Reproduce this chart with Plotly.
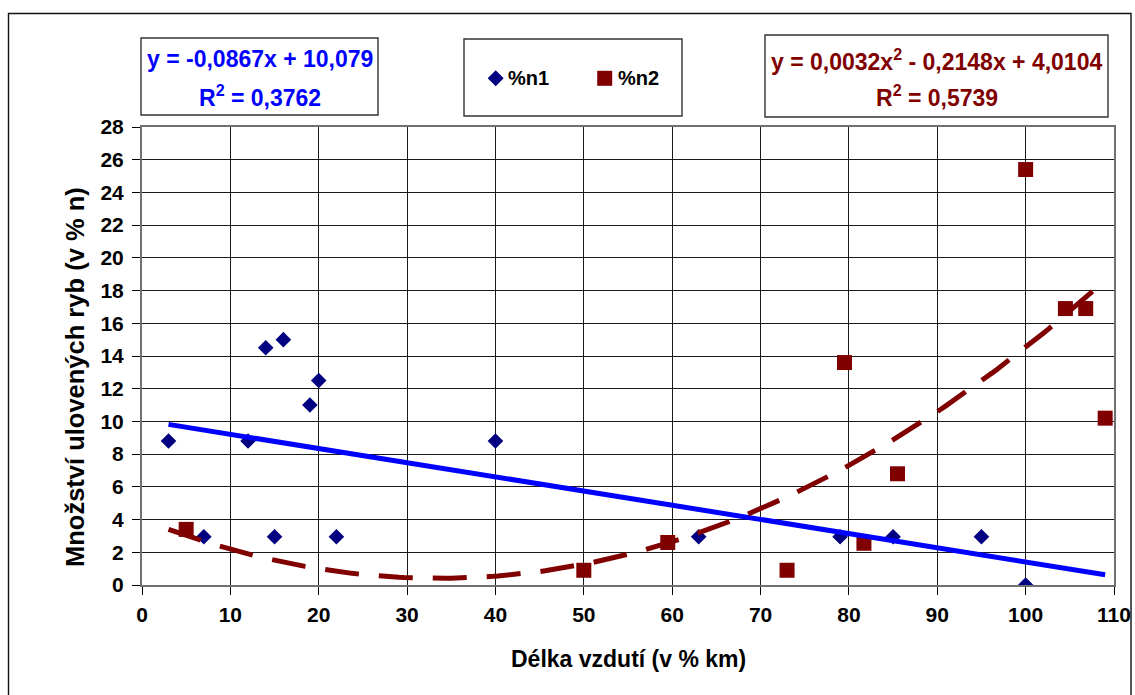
import numpy as np
import plotly.graph_objects as go

# ---- data -------------------------------------------------------------
# %n1 : share of caught fish, first group (diamonds)
n1_x = [3, 7, 12, 14, 15, 16, 19, 20, 22, 40, 63, 79, 85, 95, 100]
n1_y = [8.8, 2.95, 8.8, 14.5, 2.95, 15.0, 11.0, 12.5, 2.95, 8.8, 2.95, 2.95, 2.95, 2.95, 0.0]

# %n2 : share of caught fish, second group (squares)
n2_x = [5, 50, 59.5, 73, 79.5, 81.7, 85.5, 100, 104.5, 106.8, 109]
n2_y = [3.4, 0.9, 2.6, 0.9, 13.6, 2.55, 6.8, 25.4, 16.9, 16.9, 10.2]

# fitted trend lines (linear for %n1, quadratic for %n2)
lin_slope, lin_icpt, lin_r2 = -0.0867, 10.079, 0.3762
quad_a, quad_b, quad_c, quad_r2 = 0.0032, -0.2148, 4.0104, 0.5739
trend_from, trend_to = 3, 109

x_ticks = list(range(0, 111, 10))
y_ticks = list(range(0, 29, 2))

x_title = "Délka vzdutí (v % km)"
y_title = "Množství ulovených ryb (v % n)"

# ---- styling ----------------------------------------------------------
FONT = "Liberation Sans, Arial, sans-serif"
NAVY = "#000080"
MAROON = "#800000"
BLUE = "#0000FF"

W, H = 1135, 695
L, R, T, B = 142, 1114, 127, 585          # plot area in pixels


def fx(p):
    return (p - L) / (R - L)


def fy(p):
    return (B - p) / (B - T)


tx = np.linspace(trend_from, trend_to, 200)
lin_y = lin_slope * tx + lin_icpt
quad_y = quad_a * tx ** 2 + quad_b * tx + quad_c

fig = go.Figure()

fig.add_trace(go.Scatter(
    x=n1_x, y=n1_y, mode="markers", name="%n1",
    marker=dict(symbol="diamond", size=12, color=NAVY, line=dict(width=0)),
))
fig.add_trace(go.Scatter(
    x=n2_x, y=n2_y, mode="markers", name="%n2",
    marker=dict(symbol="square", size=15, color=MAROON, line=dict(width=0)),
))
fig.add_trace(go.Scatter(
    x=tx, y=lin_y, mode="lines", name="lineární (%n1)",
    line=dict(color=BLUE, width=5),
))
fig.add_trace(go.Scatter(
    x=tx, y=quad_y, mode="lines", name="polynomický (%n2)",
    line=dict(color=MAROON, width=5, dash="34px,20px"),
))

axis_common = dict(
    showgrid=True, gridcolor="#1a1a1a", gridwidth=1,
    showline=True, linecolor="#707070", linewidth=2, mirror=True,
    ticks="outside", ticklen=8, tickcolor="#000", tickwidth=1,
    tickfont=dict(family=FONT, size=21, color="#000", weight="bold"),
    zeroline=False, fixedrange=True,
)

fig.update_xaxes(range=[0, 110], tickvals=x_ticks, ticklabelstandoff=2, **axis_common)
fig.update_yaxes(range=[0, 28], tickvals=y_ticks, ticklabelstandoff=4, **axis_common)

shapes = []
annotations = []

# outer chart frame
shapes.append(dict(type="rect", xref="paper", yref="paper",
                   x0=fx(8.5), x1=fx(1131), y0=fy(13.5), y1=fy(720),
                   line=dict(color="#111", width=1.4), fillcolor="rgba(0,0,0,0)", layer="below"))

# equation boxes and legend box
for (x0, x1, y0, y1) in [(141, 378, 38, 115), (464, 682, 39, 116), (765, 1108, 35, 117)]:
    shapes.append(dict(type="rect", xref="paper", yref="paper",
                       x0=fx(x0), x1=fx(x1), y0=fy(y1), y1=fy(y0),
                       line=dict(color="#333", width=1.4), fillcolor="white"))

# legend markers
dcx, dcy, dr = 495.7, 78.3, 8
shapes.append(dict(type="path", xref="paper", yref="paper",
                   path=f"M {fx(dcx - dr)},{fy(dcy)} L {fx(dcx)},{fy(dcy - dr)} "
                        f"L {fx(dcx + dr)},{fy(dcy)} L {fx(dcx)},{fy(dcy + dr)} Z",
                   fillcolor=NAVY, line=dict(width=0)))
scx, scy, sr = 604.7, 78.3, 7.5
shapes.append(dict(type="rect", xref="paper", yref="paper",
                   x0=fx(scx - sr), x1=fx(scx + sr), y0=fy(scy + sr), y1=fy(scy - sr),
                   fillcolor=MAROON, line=dict(width=0)))


def label(text, px, py, size, color, xanchor="center", angle=0):
    annotations.append(dict(
        text=text, xref="paper", yref="paper", x=fx(px), y=fy(py),
        xanchor=xanchor, yanchor="middle", showarrow=False, textangle=angle,
        font=dict(family=FONT, size=size, color=color, weight="bold"),
    ))


label("%n1", 506, 78, 20, "#000", xanchor="left")
label("%n2", 616, 78, 20, "#000", xanchor="left")

lin_txt = f"y = {lin_slope:.4f}x + {lin_icpt:.3f}".replace(".", ",")
label(lin_txt, 259.5, 59, 23, BLUE)
label(f"R<sup>2</sup> = {lin_r2:.4f}".replace(".", ","), 259.5, 96, 23, BLUE)

quad_txt = (f"y = {quad_a:.4f}x<sup>2</sup> - {abs(quad_b):.4f}x + {quad_c:.4f}").replace(".", ",")
label(quad_txt, 936.5, 60, 23, MAROON)
label(f"R<sup>2</sup> = {quad_r2:.4f}".replace(".", ","), 936.5, 96, 23, MAROON)

# axis titles
label(x_title, (L + R) / 2, 659, 23, "#000")
label(y_title, 75, 377, 25.5, "#000", angle=-90)

fig.update_layout(
    width=W, height=H,
    margin=dict(l=L, r=W - R, t=T, b=H - B, autoexpand=False),
    paper_bgcolor="white", plot_bgcolor="white",
    showlegend=False,
    shapes=shapes, annotations=annotations,
)

fig.write_html("out.html")
